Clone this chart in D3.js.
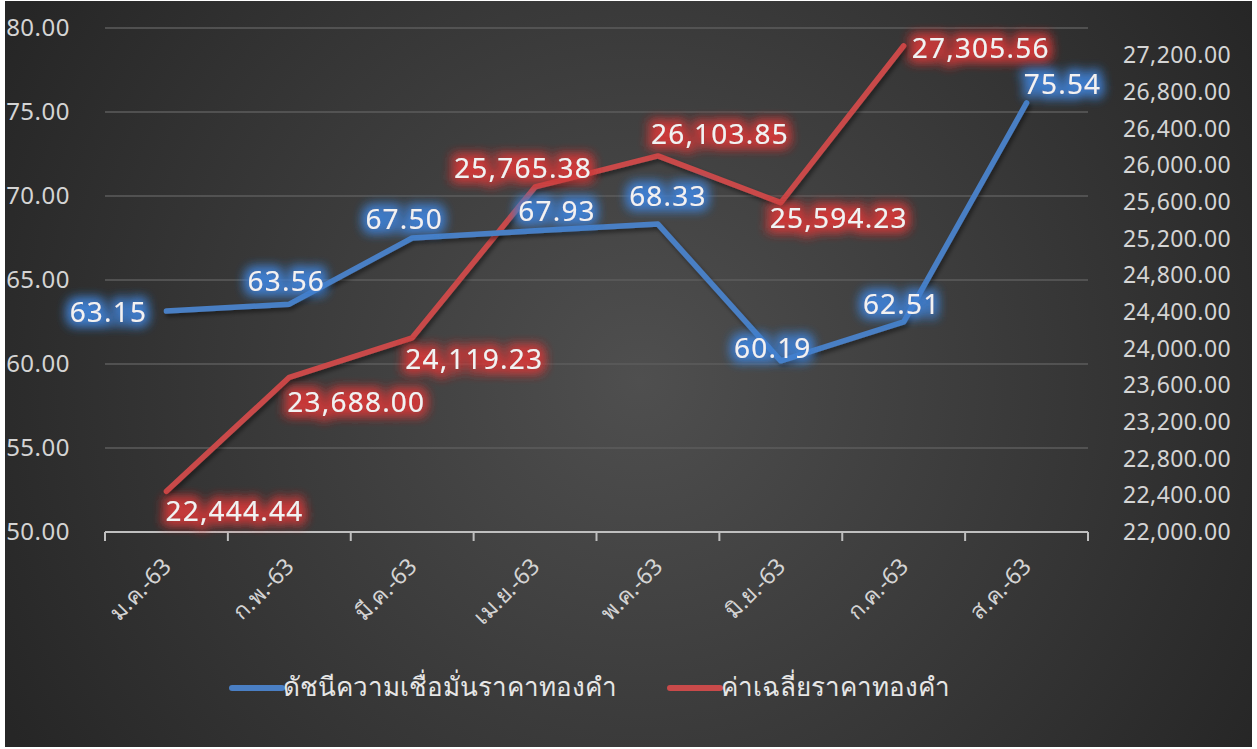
<!DOCTYPE html>
<html>
<head>
<meta charset="utf-8">
<script src="https://cdn.jsdelivr.net/npm/d3@7"></script>
<style>
  html, body { margin: 0; padding: 0; background: #ffffff; }
  svg { display: block; }
  text { font-family: "Noto Sans", "Open Sans", sans-serif; }
</style>
</head>
<body>
<script>
var months = ['ม.ค.-63', 'ก.พ.-63', 'มี.ค.-63', 'เม.ย.-63', 'พ.ค.-63', 'มิ.ย.-63', 'ก.ค.-63', 'ส.ค.-63'];
var confidence = [63.15, 63.56, 67.50, 67.93, 68.33, 60.19, 62.51, 75.54];
var goldPrice = [22444.44, 23688.00, 24119.23, 25765.38, 26103.85, 25594.23, 27305.56];
var leftTicks = [50, 55, 60, 65, 70, 75, 80];
var rightTicks = d3.range(22000, 27201, 400);
var seriesNames = ['ดัชนีความเชื่อมั่นราคาทองคำ', 'ค่าเฉลี่ยราคาทองคำ'];

// label placement, offsets from the point
var blueLabelShift = [[-58, 0], [-3, -24], [-8, -20], [22, -21], [10, -29], [-8, -14], [-2, -19], [36, -20]];
var redLabelShift = [[68, 19], [67, 24], [62, 20], [-12, -20], [62, -23], [58, 14], [77, 1]];

const WIDTH = 1257;
const HEIGHT = 749;
const PLOT_LEFT = 105;
const PLOT_RIGHT = 1088;
const PLOT_TOP = 28;
const PLOT_BOTTOM = 532;
const BLUE = '#4a7fc4';
const RED = '#c94a4a';

var svg = d3.select('body').append('svg')
  .attr('width', WIDTH)
  .attr('height', HEIGHT);

var defs = svg.append('defs');

var bg = defs.append('radialGradient')
  .attr('id', 'bg')
  .attr('gradientUnits', 'userSpaceOnUse')
  .attr('cx', 640).attr('cy', 380).attr('r', 720);
bg.append('stop').attr('offset', '0%').attr('stop-color', '#4f4f4f');
bg.append('stop').attr('offset', '100%').attr('stop-color', '#262626');

var makeGlow = function(id, color){
  var f = defs.append('filter').attr('id', id)
    .attr('x', '-30%').attr('y', '-70%').attr('width', '160%').attr('height', '240%');
  f.append('feMorphology').attr('in', 'SourceAlpha').attr('operator', 'dilate').attr('radius', 3).attr('result', 'fat');
  f.append('feFlood').attr('flood-color', color).attr('flood-opacity', 0.85);
  f.append('feComposite').attr('in2', 'fat').attr('operator', 'in');
  f.append('feGaussianBlur').attr('stdDeviation', 6).attr('result', 'glow');
  var m = f.append('feMerge');
  m.append('feMergeNode').attr('in', 'glow');
  m.append('feMergeNode').attr('in', 'glow');
  m.append('feMergeNode').attr('in', 'SourceGraphic');
};
makeGlow('glowBlue', '#3f7fd0');
makeGlow('glowRed', '#cf3a3a');

var shadow = defs.append('filter').attr('id', 'shadow')
  .attr('x', '-10%').attr('y', '-10%').attr('width', '120%').attr('height', '120%');
shadow.append('feDropShadow').attr('dx', 2).attr('dy', 3).attr('stdDeviation', 2)
  .attr('flood-color', '#000').attr('flood-opacity', 0.45);

svg.append('rect')
  .attr('x', 5).attr('y', 1)
  .attr('width', WIDTH - 10).attr('height', HEIGHT - 3)
  .attr('fill', 'url(#bg)');

var xScale = d3.scaleBand()
  .domain(months)
  .range([PLOT_LEFT, PLOT_RIGHT]);

var yLeft = d3.scaleLinear()
  .domain([50, 80])
  .range([PLOT_BOTTOM, PLOT_TOP]);

var yRight = d3.scaleLinear()
  .domain([22000, 27500])
  .range([PLOT_BOTTOM, PLOT_TOP]);

var cx = function(i){ return xScale(months[i]) + xScale.bandwidth() / 2; };

// gridlines
svg.append('g')
  .selectAll('line')
  .data(leftTicks.slice(1))
  .enter()
  .append('line')
  .attr('x1', PLOT_LEFT).attr('x2', PLOT_RIGHT)
  .attr('y1', function(d){ return yLeft(d); })
  .attr('y2', function(d){ return yLeft(d); })
  .attr('stroke', '#5c5c5c')
  .attr('stroke-width', 1.5);

// left axis
var leftAxis = svg.append('g')
  .attr('transform', 'translate(' + PLOT_LEFT + ',0)')
  .call(d3.axisLeft(yLeft).tickValues(leftTicks).tickFormat(d3.format('.2f')).tickSize(0).tickPadding(35));
leftAxis.select('.domain').remove();
leftAxis.selectAll('text')
  .attr('fill', '#d4d4d4')
  .style('font-size', '24px')
  .style('letter-spacing', '0.5px');

// right axis
var rightAxis = svg.append('g')
  .attr('transform', 'translate(' + PLOT_RIGHT + ',0)')
  .call(d3.axisRight(yRight).tickValues(rightTicks).tickFormat(d3.format(',.2f')).tickSize(0).tickPadding(35));
rightAxis.select('.domain').remove();
rightAxis.selectAll('text')
  .attr('fill', '#d4d4d4')
  .style('font-size', '23px')
  .style('letter-spacing', '0.4px');

// x axis
var xAxis = svg.append('g')
  .attr('transform', 'translate(0,' + PLOT_BOTTOM + ')')
  .call(d3.axisBottom(xScale).tickSize(0).tickPadding(0));
xAxis.select('.domain')
  .attr('stroke', '#bfbfbf')
  .attr('stroke-width', 2)
  .attr('d', 'M' + PLOT_LEFT + ',0H' + PLOT_RIGHT);
xAxis.selectAll('.tick text')
  .attr('fill', '#d4d4d4')
  .style('font-size', '23px')
  .attr('text-anchor', 'end')
  .attr('dy', null)
  .attr('transform', 'translate(6,36) rotate(-45)');

var boundaries = months.map(function(m){ return xScale(m); }).concat([PLOT_RIGHT]);
xAxis.append('g')
  .selectAll('line')
  .data(boundaries)
  .enter()
  .append('line')
  .attr('x1', function(d){ return d; })
  .attr('x2', function(d){ return d; })
  .attr('y1', 0).attr('y2', 9)
  .attr('stroke', '#bfbfbf')
  .attr('stroke-width', 2);

// lines
var blueLine = d3.line()
  .x(function(d, i){ return cx(i); })
  .y(function(d){ return yLeft(d); });

var redLine = d3.line()
  .x(function(d, i){ return cx(i); })
  .y(function(d){ return yRight(d); });

svg.append('path')
  .attr('d', redLine(goldPrice))
  .attr('fill', 'none')
  .attr('stroke', RED)
  .attr('stroke-width', 5.5)
  .attr('stroke-linecap', 'round')
  .attr('stroke-linejoin', 'round')
  .attr('filter', 'url(#shadow)');

svg.append('path')
  .attr('d', blueLine(confidence))
  .attr('fill', 'none')
  .attr('stroke', BLUE)
  .attr('stroke-width', 5.5)
  .attr('stroke-linecap', 'round')
  .attr('stroke-linejoin', 'round')
  .attr('filter', 'url(#shadow)');

// data labels
svg.append('g')
  .selectAll('text')
  .data(goldPrice)
  .enter()
  .append('text')
  .attr('x', function(d, i){ return cx(i) + redLabelShift[i][0]; })
  .attr('y', function(d, i){ return yRight(d) + redLabelShift[i][1]; })
  .attr('text-anchor', 'middle')
  .attr('dominant-baseline', 'central')
  .attr('fill', '#f2f2f2')
  .style('font-size', '28px')
  .style('letter-spacing', '1.2px')
  .attr('filter', 'url(#glowRed)')
  .text(function(d){ return d3.format(',.2f')(d); });

svg.append('g')
  .selectAll('text')
  .data(confidence)
  .enter()
  .append('text')
  .attr('x', function(d, i){ return cx(i) + blueLabelShift[i][0]; })
  .attr('y', function(d, i){ return yLeft(d) + blueLabelShift[i][1]; })
  .attr('text-anchor', 'middle')
  .attr('dominant-baseline', 'central')
  .attr('fill', '#f2f2f2')
  .style('font-size', '28px')
  .style('letter-spacing', '1.2px')
  .attr('filter', 'url(#glowBlue)')
  .text(function(d){ return d3.format('.2f')(d); });

// legend
var legendItems = [
  {name: seriesNames[0], color: BLUE, x: 232},
  {name: seriesNames[1], color: RED, x: 670}
];
var legend = svg.append('g')
  .selectAll('g')
  .data(legendItems)
  .enter()
  .append('g')
  .attr('transform', function(d){ return 'translate(' + d.x + ',688)'; });
legend.append('line')
  .attr('x1', 0).attr('x2', 50)
  .attr('y1', 0).attr('y2', 0)
  .attr('stroke', function(d){ return d.color; })
  .attr('stroke-width', 6)
  .attr('stroke-linecap', 'round');
legend.append('text')
  .attr('x', 51)
  .attr('y', -2)
  .attr('dominant-baseline', 'central')
  .attr('fill', '#e6e6e6')
  .style('font-size', '26px')
  .text(function(d){ return d.name; });
</script>
</body>
</html>
